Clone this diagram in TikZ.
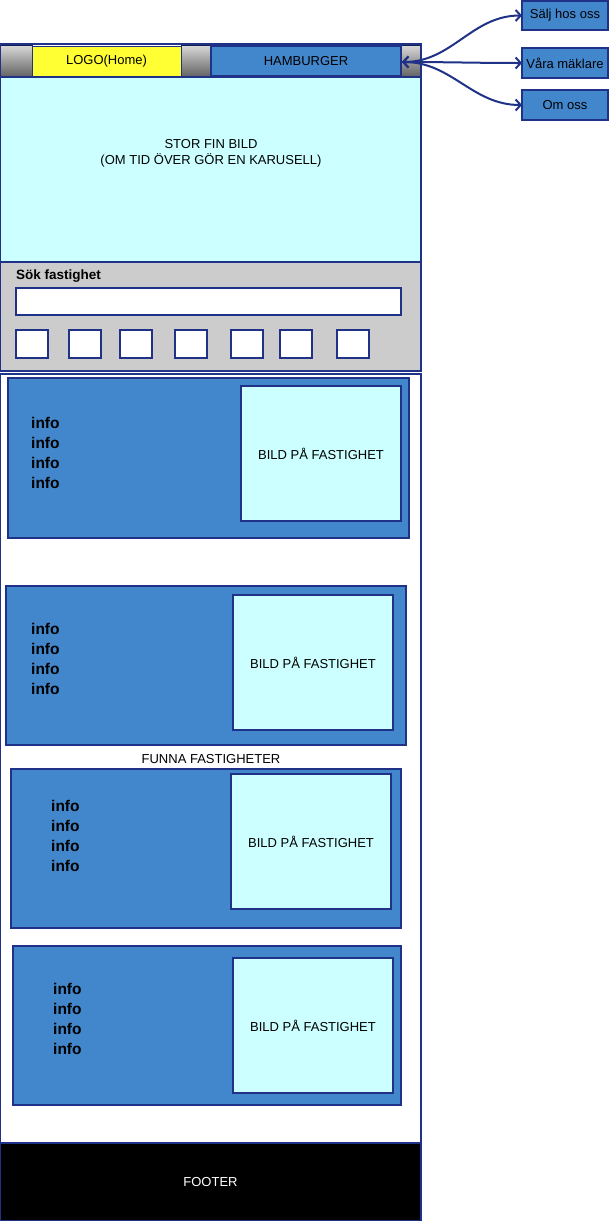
\documentclass[tikz,border=0pt]{standalone}
\usepackage{fontspec}
\setmainfont{Liberation Sans}
\usetikzlibrary{arrows.meta}

\definecolor{navy}{RGB}{31,50,135}
\definecolor{cardblue}{RGB}{66,134,204}
\definecolor{photocyan}{RGB}{204,255,255}
\definecolor{searchgray}{RGB}{204,204,204}
\definecolor{logoyellow}{RGB}{255,255,51}

\tikzset{
  block/.style={draw=navy, line width=2pt, anchor=north west, inner sep=0pt, outer sep=0pt},
  grayseg/.style={block, line width=0.8pt, draw=navy!60!black, top color=black!15, bottom color=black!62},
  plaintext/.style={font=\fontsize{13}{16}\selectfont, align=center},
  infotext/.style={font=\fontsize{15.5}{20}\bfseries, align=left, anchor=west, inner sep=0pt},
  card/.style={block, fill=cardblue},
  photo/.style={block, fill=photocyan, plaintext},
  navbox/.style={block, fill=cardblue, plaintext, minimum width=86pt},
  link/.style={draw=navy, line width=2pt, {Straight Barb[length=5pt,width=11pt]}-{Straight Barb[length=5pt,width=11pt]}}
}

\begin{document}
\begin{tikzpicture}[x=1pt, y=-1pt]
\useasboundingbox (0,0) rectangle (615,1221);

% header
\node[grayseg, minimum width=32pt, minimum height=32pt] (segleft) at (0,45) {};
\node[grayseg, minimum width=30pt, minimum height=32pt] (segmid) at (181,45) {};
\node[grayseg, minimum width=20pt, minimum height=32pt] (segright) at (401,45) {};
\node[block, line width=1pt, fill=logoyellow, minimum width=149pt, minimum height=30pt, plaintext] (logo) at (32,46) {LOGO(Home)};
\node[block, line width=1.5pt, fill=cardblue, minimum width=190pt, minimum height=30pt, plaintext] (hamburger) at (211,46) {HAMBURGER};
\node[block, minimum width=421pt, minimum height=33pt] (header) at (0,44) {};

% hero image
\node[photo, minimum width=421pt, minimum height=185pt] (hero) at (0,77) {};
\node[plaintext] (herotext) at (211,153) {STOR FIN BILD\\(OM TID ÖVER GÖR EN KARUSELL)};

% search
\node[block, fill=searchgray, minimum width=421pt, minimum height=109pt] (search) at (0,262) {};
\node[anchor=west, inner sep=0pt, font=\fontsize{13.5}{16}\bfseries] (searchtitle) at (16,276) {Sök fastighet};
\node[block, fill=white, minimum width=385pt, minimum height=27pt] (searchfield) at (16,288) {};
\foreach \x [count=\i] in {16,69,120,175,231,280,337}
  \node[block, fill=white, minimum width=32pt, minimum height=28pt] (filter\i) at (\x,330) {};

% results
\node[block, fill=white, minimum width=421pt, minimum height=769pt] (results) at (0,374) {};

\node[card, minimum width=401pt, minimum height=160pt] (card1) at (8,378) {};
\node[photo, minimum width=160pt, minimum height=135pt] (photo1) at (241,386) {BILD PÅ FASTIGHET};
\node[infotext] (info1) at (31,453) {info\\info\\info\\info};

\node[card, minimum width=400pt, minimum height=159pt] (card2) at (6,586) {};
\node[photo, minimum width=160pt, minimum height=135pt] (photo2) at (233,595) {BILD PÅ FASTIGHET};
\node[infotext] (info2) at (31,659) {info\\info\\info\\info};

\node[plaintext] (resulttitle) at (211,759) {FUNNA FASTIGHETER};

\node[card, minimum width=390pt, minimum height=159pt] (card3) at (11,769) {};
\node[photo, minimum width=160pt, minimum height=135pt] (photo3) at (231,774) {BILD PÅ FASTIGHET};
\node[infotext] (info3) at (51,836) {info\\info\\info\\info};

\node[card, minimum width=388pt, minimum height=159pt] (card4) at (13,946) {};
\node[photo, minimum width=160pt, minimum height=135pt] (photo4) at (233,958) {BILD PÅ FASTIGHET};
\node[infotext] (info4) at (53,1019) {info\\info\\info\\info};

% footer
\node[block, fill=black, minimum width=421pt, minimum height=78pt, plaintext, text=white] (footer) at (0,1143) {FOOTER};

% menu
\node[navbox, minimum height=29pt] (salj) at (522,1) {Sälj hos oss};
\node[navbox, minimum height=30pt] (maklare) at (522,48) {Våra mäklare};
\node[navbox, minimum height=30pt] (omoss) at (522,90) {Om oss};

\coordinate (hub) at (402,62);
\draw[link] (hub) to[out=0, in=180] (salj.west);
\draw[link] (hub) to[out=0, in=180] (maklare.west);
\draw[link] (hub) to[out=0, in=180] (omoss.west);

\end{tikzpicture}
\end{document}
